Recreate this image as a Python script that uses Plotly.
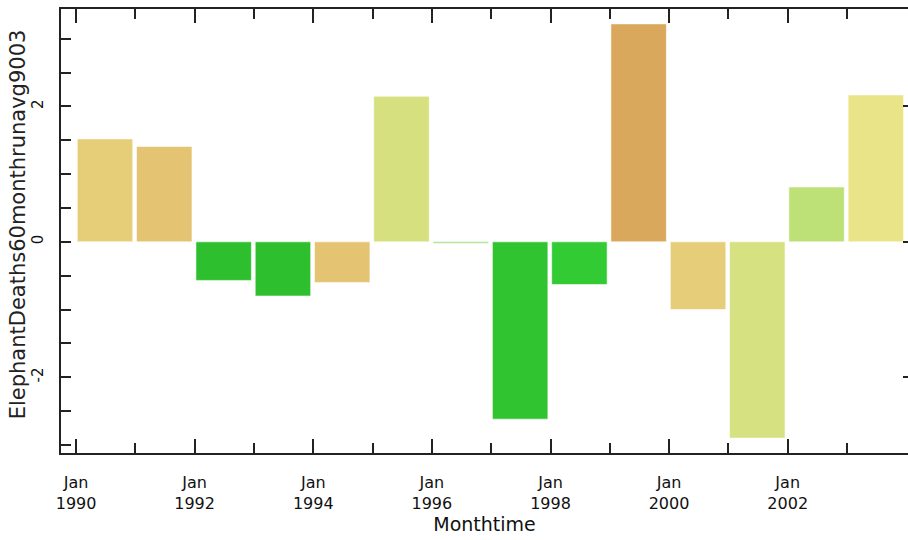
import plotly.graph_objects as go

years = [1990, 1991, 1992, 1993, 1994, 1995, 1996, 1997, 1998, 1999, 2000, 2001, 2002, 2003]
values = [1.52, 1.41, -0.57, -0.80, -0.60, 2.15, -0.02, -2.62, -0.63, 3.22, -1.00, -2.90, 0.81, 2.17]
colors = ["#E6CD78", "#E4C473", "#2EBF2E", "#2EBF2E", "#E4C473", "#D6E07F", "#8EDC6E",
          "#30C530", "#33CB33", "#D9A85C", "#E6CD79", "#D6E182", "#BDE176", "#E8E487"]
major_years = [1990, 1992, 1994, 1996, 1998, 2000, 2002]
major_labels = ["Jan<br>1990", "Jan<br>1992", "Jan<br>1994", "Jan<br>1996",
                "Jan<br>1998", "Jan<br>2000", "Jan<br>2002"]
minor_years = [1991, 1993, 1995, 1997, 1999, 2001, 2003]
y_tickvals = [-2, 0, 2]
y_ticktext = ["-2", "0", "2"]
y_minor = [-3, -2.5, -1.5, -1, -0.5, 0.5, 1, 1.5, 2.5, 3]
x_title = "Monthtime"
y_title = "ElephantDeaths60monthrunavg9003"

x_centers = [f"{y}-06-28" for y in years]
bar_width_ms = 0.935 * 365.25 * 86400000
y_range = [-3.12, 3.44]

fig = go.Figure(go.Bar(
    x=x_centers, y=values, width=[bar_width_ms] * len(years),
    marker=dict(color=colors, line=dict(color="rgba(255,255,255,0.55)", width=1)),
    hoverinfo="skip",
))
# empty trace so the right-hand (major-tick only) axis is drawn
fig.add_trace(go.Scatter(x=[], y=[], yaxis="y2", hoverinfo="skip"))

font = "DejaVu Sans"
fig.update_layout(
    width=908, height=540,
    margin=dict(l=61, r=0, t=9, b=87),
    plot_bgcolor="white", paper_bgcolor="white",
    showlegend=False,
    font=dict(family=font, color="#111"),
    xaxis=dict(
        type="date", automargin=False,
        range=["1989-09-30", "2004-01-12"],
        tickmode="array",
        tickvals=[f"{y}-01-01" for y in major_years],
        ticktext=major_labels,
        ticks="inside", ticklen=14, tickwidth=1.5, tickcolor="#222",
        minor=dict(tickmode="array", tickvals=[f"{y}-01-01" for y in minor_years],
                   ticks="inside", ticklen=10, tickwidth=1.5, tickcolor="#222"),
        showline=True, linecolor="#222", linewidth=1.5, mirror="ticks",
        showgrid=False, zeroline=False,
        tickfont=dict(size=16, family=font, color="#111"),
        ticklabelstandoff=14,
        title=dict(text=x_title, font=dict(size=19, family=font, color="#111"), standoff=6),
    ),
    yaxis=dict(
        automargin=False,
        range=y_range,
        tickmode="array", tickvals=y_tickvals, ticktext=y_ticktext,
        ticks="inside", ticklen=10, tickwidth=1.5, tickcolor="#222",
        minor=dict(tickmode="array", tickvals=y_minor,
                   ticks="inside", ticklen=10, tickwidth=1.5, tickcolor="#222"),
        showline=True, linecolor="#222", linewidth=1.5, mirror=False,
        showgrid=False, zeroline=False,
        tickangle=-90,
        tickfont=dict(size=15, family=font, color="#111"),
        ticklabelstandoff=10,
    ),
    yaxis2=dict(
        overlaying="y", side="right", automargin=False,
        range=y_range,
        tickmode="array", tickvals=y_tickvals,
        showticklabels=False,
        ticks="inside", ticklen=5, tickwidth=1.5, tickcolor="#222",
        showline=False, showgrid=False, zeroline=False,
    ),
    annotations=[dict(
        text=y_title, textangle=-90, showarrow=False,
        xref="paper", yref="paper", x=0, y=0.515, xanchor="center", yanchor="middle",
        xshift=-43, font=dict(size=21, family=font, color="#222"),
    )],
)

fig.write_html("out.html", config={"displayModeBar": False},
               post_script="document.body.style.margin='0';")
